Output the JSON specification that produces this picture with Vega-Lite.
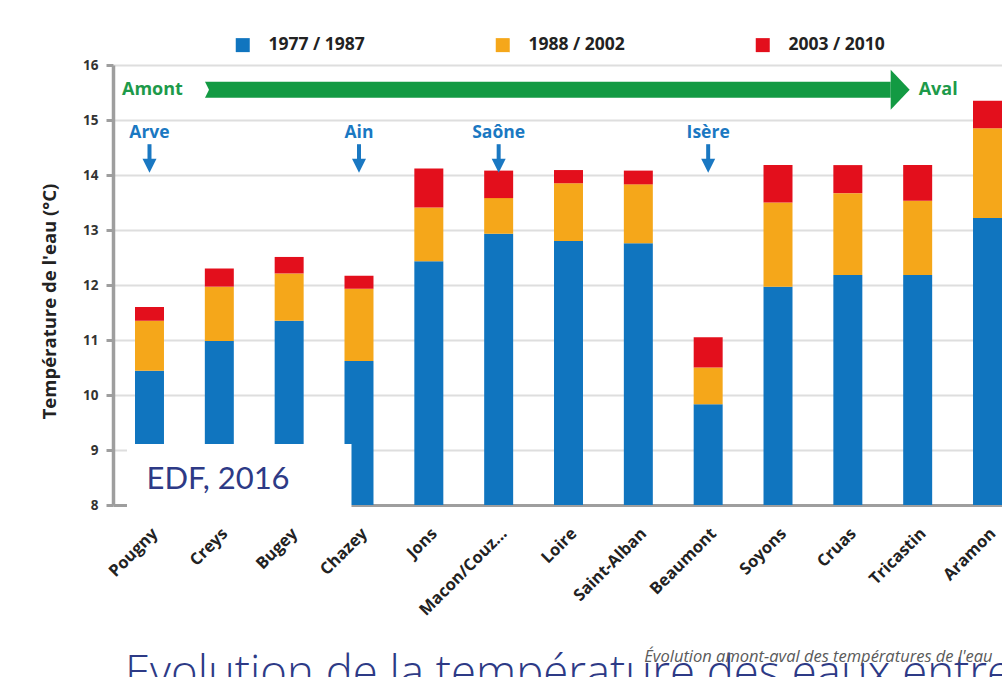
{
  "$schema": "https://vega.github.io/schema/vega-lite/v6.json",
  "width": 889,
  "height": 440,
  "autosize": {"type": "none"},
  "padding": {"left": 113, "top": 65, "right": 0, "bottom": 172},
  "background": "white",
  "config": {
    "font": "Open Sans",
    "view": {"stroke": null},
    "axis": {"labelFont": "Open Sans", "titleFont": "Open Sans"}
  },
  "datasets": {
    "temps": [
      {"station": "Pougny", "p1": 10.44, "p2": 11.35, "p3": 11.60},
      {"station": "Creys", "p1": 10.98, "p2": 11.97, "p3": 12.30},
      {"station": "Bugey", "p1": 11.35, "p2": 12.21, "p3": 12.51},
      {"station": "Chazey", "p1": 10.62, "p2": 11.93, "p3": 12.17},
      {"station": "Jons", "p1": 12.43, "p2": 13.41, "p3": 14.12},
      {"station": "Macon/Couz...", "p1": 12.93, "p2": 13.58, "p3": 14.08},
      {"station": "Loire", "p1": 12.80, "p2": 13.85, "p3": 14.09},
      {"station": "Saint-Alban", "p1": 12.76, "p2": 13.83, "p3": 14.08},
      {"station": "Beaumont", "p1": 9.83, "p2": 10.50, "p3": 11.05},
      {"station": "Soyons", "p1": 11.97, "p2": 13.50, "p3": 14.18},
      {"station": "Cruas", "p1": 12.18, "p2": 13.67, "p3": 14.18},
      {"station": "Tricastin", "p1": 12.18, "p2": 13.53, "p3": 14.18},
      {"station": "Aramon", "p1": 13.22, "p2": 14.85, "p3": 15.35}
    ],
    "rivers": [
      {"station": "Pougny", "river": "Arve"},
      {"station": "Chazey", "river": "Ain"},
      {"station": "Macon/Couz...", "river": "Saône"},
      {"station": "Beaumont", "river": "Isère"}
    ],
    "flow": [
      {"station": "Pougny", "end": "Tricastin", "start_label": "Amont", "end_label": "Aval"}
    ],
    "box": [
      {"station": "Pougny", "end": "Chazey", "label": "EDF, 2016"}
    ],
    "caption": [
      {"station": "Saint-Alban", "text": "Évolution amont-aval des températures de l'eau"}
    ],
    "slide_title": [
      {"station": "Pougny", "text": "Evolution de la température des eaux entre"}
    ]
  },
  "encoding": {
    "x": {
      "field": "station",
      "type": "nominal",
      "sort": null,
      "scale": {
        "domain": ["Pougny", "Creys", "Bugey", "Chazey", "Jons", "Macon/Couz...", "Loire", "Saint-Alban", "Beaumont", "Soyons", "Cruas", "Tricastin", "Aramon"],
        "range": [0, 911],
        "paddingInner": 0.585,
        "paddingOuter": 0.315
      },
      "axis": {
        "title": null,
        "labelAngle": -45,
        "ticks": false,
        "domainColor": "#9e9e9e",
        "domainWidth": 3,
        "labelFontWeight": "bold",
        "labelFontSize": 16.5,
        "labelColor": "#222222",
        "labelPadding": 20,
        "labelLimit": 200
      }
    }
  },
  "layer": [
    {
      "data": {"name": "temps"},
      "mark": {"type": "bar"},
      "encoding": {
        "y": {
          "field": "p1",
          "type": "quantitative",
          "scale": {"domain": [8, 16], "nice": false, "zero": false},
          "axis": {
            "title": "Température de l'eau (°C)",
            "values": [8, 9, 10, 11, 12, 13, 14, 15, 16],
            "grid": true,
            "gridColor": "#dedede",
            "gridWidth": 2,
            "domainColor": "#9e9e9e",
            "domainWidth": 3.5,
            "tickColor": "#9e9e9e",
            "tickWidth": 3,
            "tickSize": 7,
            "labelFontWeight": "bold",
            "labelFontSize": 13.5,
            "labelColor": "#333333",
            "labelPadding": 8,
            "titleFontWeight": "bold",
            "titleFontSize": 18.5,
            "titleColor": "#222222",
            "titlePadding": 23,
            "titleY": 236
          }
        },
        "y2": {"datum": 8},
        "color": {
          "datum": "1977 / 1987",
          "type": "nominal",
          "scale": {
            "domain": ["1977 / 1987", "1988 / 2002", "2003 / 2010"],
            "range": ["#1075bf", "#f5a71a", "#e30f1c"]
          },
          "legend": {
            "title": null,
            "orient": "none",
            "direction": "horizontal",
            "legendX": 121,
            "legendY": -29,
            "symbolType": "square",
            "symbolSize": 196,
            "symbolStrokeWidth": 0,
            "labelFont": "Open Sans",
            "labelFontSize": 17.5,
            "labelFontWeight": "bold",
            "labelColor": "#222222",
            "labelOffset": 17,
            "columnPadding": 129
          }
        }
      }
    },
    {
      "data": {"name": "temps"},
      "mark": {"type": "bar"},
      "encoding": {
        "y": {"field": "p2", "type": "quantitative"},
        "y2": {"field": "p1"},
        "color": {"datum": "1988 / 2002", "type": "nominal"}
      }
    },
    {
      "data": {"name": "temps"},
      "mark": {"type": "bar"},
      "encoding": {
        "y": {"field": "p3", "type": "quantitative"},
        "y2": {"field": "p2"},
        "color": {"datum": "2003 / 2010", "type": "nominal"}
      }
    },
    {
      "data": {"name": "box"},
      "mark": {"type": "rule", "color": "white", "strokeWidth": 64, "strokeCap": "butt", "xOffset": -22.5, "x2Offset": -7.5},
      "encoding": {
        "x2": {"field": "end"},
        "y": {"datum": 8.527, "type": "quantitative"}
      }
    },
    {
      "data": {"name": "box"},
      "mark": {"type": "text", "align": "left", "baseline": "alphabetic", "font": "Lato", "fontSize": 31, "color": "#2d3a86", "xOffset": -3},
      "encoding": {
        "y": {"datum": 8.3, "type": "quantitative"},
        "text": {"field": "label"}
      }
    },
    {
      "data": {"name": "flow"},
      "mark": {"type": "rule", "color": "#139a43", "strokeWidth": 16, "strokeCap": "butt", "xOffset": 55.5, "x2Offset": -27},
      "encoding": {
        "x2": {"field": "end"},
        "y": {"datum": 15.55, "type": "quantitative"}
      }
    },
    {
      "data": {"name": "flow"},
      "mark": {"type": "point", "shape": "M-0.475,-1L0.475,0L-0.475,1Z", "size": 1600, "filled": true, "opacity": 1, "color": "#139a43", "strokeWidth": 0, "xOffset": -17.5},
      "encoding": {
        "x": {"field": "end", "type": "nominal"},
        "y": {"datum": 15.55, "type": "quantitative"}
      }
    },
    {
      "data": {"name": "flow"},
      "mark": {"type": "point", "shape": "M0,-1L0.5,0L0,1Z", "size": 256, "filled": true, "opacity": 1, "color": "white", "strokeWidth": 0, "xOffset": 55.5},
      "encoding": {
        "y": {"datum": 15.55, "type": "quantitative"}
      }
    },
    {
      "data": {"name": "flow"},
      "mark": {"type": "text", "align": "left", "baseline": "middle", "fontWeight": "bold", "fontSize": 18, "color": "#1d9a4a", "xOffset": -27.5},
      "encoding": {
        "y": {"datum": 15.55, "type": "quantitative"},
        "text": {"field": "start_label"}
      }
    },
    {
      "data": {"name": "flow"},
      "mark": {"type": "text", "align": "left", "baseline": "middle", "fontWeight": "bold", "fontSize": 18, "color": "#1d9a4a", "xOffset": 1},
      "encoding": {
        "x": {"field": "end", "type": "nominal"},
        "y": {"datum": 15.55, "type": "quantitative"},
        "text": {"field": "end_label"}
      }
    },
    {
      "data": {"name": "rivers"},
      "mark": {"type": "text", "align": "center", "baseline": "middle", "fontWeight": "bold", "fontSize": 17.5, "color": "#1a78c2"},
      "encoding": {
        "y": {"datum": 14.77, "type": "quantitative"},
        "text": {"field": "river"}
      }
    },
    {
      "data": {"name": "rivers"},
      "mark": {"type": "rule", "color": "#1a78c2", "strokeWidth": 4},
      "encoding": {
        "y": {"datum": 14.56, "type": "quantitative"},
        "y2": {"datum": 14.2}
      }
    },
    {
      "data": {"name": "rivers"},
      "mark": {"type": "point", "shape": "M-1,-1L1,-1L0,1Z", "size": 196, "filled": true, "opacity": 1, "color": "#1a78c2", "strokeWidth": 0},
      "encoding": {
        "y": {"datum": 14.17, "type": "quantitative"}
      }
    },
    {
      "data": {"name": "slide_title"},
      "mark": {"type": "text", "align": "left", "baseline": "alphabetic", "font": "Open Sans", "fontWeight": 300, "fontSize": 45.5, "color": "#2d3a86", "xOffset": -24.5},
      "encoding": {
        "y": {"datum": 4.68, "type": "quantitative"},
        "text": {"field": "text"}
      }
    },
    {
      "data": {"name": "caption"},
      "mark": {"type": "text", "align": "left", "baseline": "alphabetic", "fontStyle": "italic", "fontSize": 16.5, "color": "#5a5a5a", "xOffset": 6, "font": "Open Sans"},
      "encoding": {
        "y": {"datum": 5.15, "type": "quantitative"},
        "text": {"field": "text"}
      }
    }
  ]
}
